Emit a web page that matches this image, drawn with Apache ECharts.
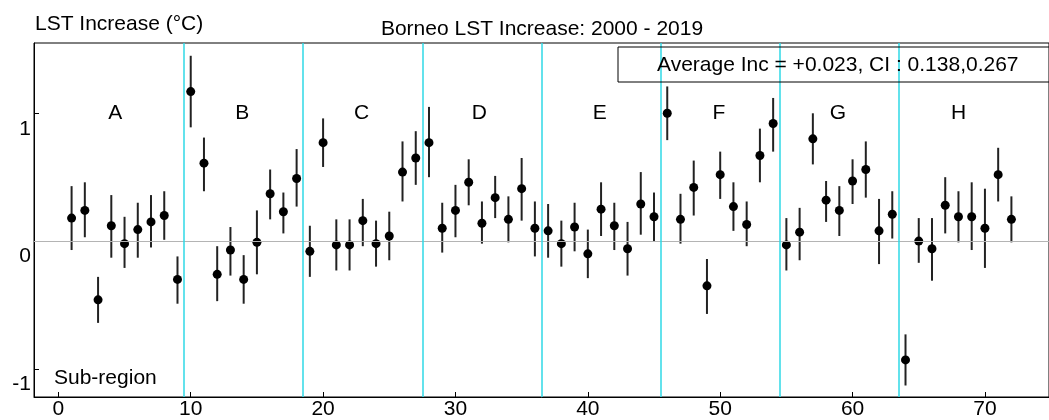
<!DOCTYPE html>
<html>
<head>
<meta charset="utf-8">
<script src="https://cdn.jsdelivr.net/npm/echarts@6/dist/echarts.min.js"></script>
<style>
html,body{margin:0;padding:0;background:#fff;}
#chart{width:1049px;height:420px;}
</style>
</head>
<body>
<div id="chart"></div>
<script>
// ---- data ----
const titleText = 'Borneo LST Increase: 2000 - 2019';
const yAxisTitle = 'LST Increase (\u00B0C)';
const xAxisNote = 'Sub-region';
const legendText = 'Average Inc = +0.023, CI : 0.138,0.267';

const estimate = [0.18,0.24,-0.46,0.12,-0.02,0.09,0.15,0.20,-0.30,1.17,
  0.61,-0.26,-0.07,-0.30,-0.01,0.37,0.23,0.49,-0.08,0.77,
  -0.03,-0.03,0.16,-0.02,0.04,0.54,0.65,0.77,0.10,0.24,
  0.46,0.14,0.34,0.17,0.41,0.10,0.08,-0.02,0.11,-0.10,
  0.25,0.12,-0.06,0.29,0.19,1.00,0.17,0.42,-0.35,0.52,
  0.27,0.13,0.67,0.92,-0.03,0.07,0.80,0.32,0.24,0.47,
  0.56,0.08,0.21,-0.93,0.00,-0.06,0.28,0.19,0.19,0.10,
  0.52,0.17];
const ciLow = [-0.07,0.03,-0.64,-0.13,-0.21,-0.13,-0.05,0.01,-0.49,0.89,
  0.39,-0.47,-0.27,-0.49,-0.26,0.17,0.06,0.27,-0.28,0.58,
  -0.23,-0.23,-0.04,-0.20,-0.15,0.31,0.44,0.50,-0.09,0.03,
  0.28,-0.02,0.18,-0.01,0.16,-0.12,-0.13,-0.20,-0.08,-0.29,
  0.04,-0.07,-0.27,0.05,0.00,0.79,-0.02,0.20,-0.57,0.33,
  0.08,-0.04,0.46,0.70,-0.23,-0.15,0.60,0.15,0.04,0.29,
  0.34,-0.18,0.02,-1.13,-0.17,-0.31,0.06,-0.01,-0.07,-0.21,
  0.31,-0.01];
const ciHigh = [0.43,0.46,-0.28,0.36,0.19,0.30,0.36,0.39,-0.12,1.45,
  0.81,-0.04,0.11,-0.11,0.24,0.56,0.38,0.72,0.12,0.96,
  0.17,0.17,0.33,0.16,0.23,0.78,0.86,1.05,0.30,0.44,
  0.64,0.31,0.51,0.35,0.65,0.31,0.29,0.16,0.30,0.09,
  0.46,0.30,0.15,0.54,0.38,1.21,0.37,0.63,-0.14,0.70,
  0.46,0.31,0.88,1.12,0.18,0.26,1.00,0.47,0.43,0.64,
  0.78,0.33,0.39,-0.73,0.18,0.18,0.50,0.39,0.46,0.41,
  0.73,0.35];
const regionNames = ['A','B','C','D','E','F','G','H'];
const regionLabelX = [4.3,13.9,22.9,31.8,40.9,49.9,58.9,68];
const regionLabelY = 1.0;
const dividers = [9.5,18.5,27.5,36.5,45.5,54.5,63.5];
const xTicks = [0,10,20,30,40,50,60,70];
const yTicks = [-1,0,1];

// ---- build ----
const FONT = "'Liberation Sans', Arial, sans-serif";
const pts = estimate.map((v,i)=>[i+1, v]);
const bars = estimate.map((v,i)=>[i+1, ciLow[i], ciHigh[i]]);
const letters = regionNames.map((n,i)=>({name:n, value:[regionLabelX[i], regionLabelY]}));

const chart = echarts.init(document.getElementById('chart'), null, {renderer:'canvas'});
chart.setOption({
  animation:false,
  backgroundColor:'#fff',
  grid:{left:34, right:-4, top:43, bottom:23, show:true, borderColor:'#000', borderWidth:1, backgroundColor:'transparent'},
  xAxis:{type:'value', min:-1.84, max:74.84,
    axisLine:{show:true, onZero:false, lineStyle:{color:'#000', width:1}},
    axisTick:{show:true, inside:true, length:5, customValues:xTicks, lineStyle:{color:'#000'}},
    axisLabel:{show:true, customValues:xTicks, margin:2, fontFamily:FONT, fontSize:21, color:'#000'},
    splitLine:{show:false}},
  yAxis:{type:'value', min:-1.22, max:1.55,
    axisLine:{show:true, onZero:false, lineStyle:{color:'#000', width:1}},
    axisTick:{show:true, inside:true, length:5, customValues:yTicks, lineStyle:{color:'#000'}},
    axisLabel:{show:true, customValues:yTicks, margin:3, verticalAlign:'top', padding:[5,0,0,0], fontFamily:FONT, fontSize:21, color:'#000'},
    splitLine:{show:false}},
  series:[
    {type:'line', data:[], silent:true,
     markLine:{silent:true, symbol:'none', label:{show:false},
       data:[{yAxis:0, lineStyle:{color:'#b4b4b4', width:1, type:'solid'}}]
         .concat(dividers.map(d=>({xAxis:d, lineStyle:{color:'#2fd8e6', width:1.5, type:'solid'}})))}},
    {type:'custom', data:bars, silent:true, z:3,
     renderItem:function(params, api){
       const p1 = api.coord([api.value(0), api.value(1)]);
       const p2 = api.coord([api.value(0), api.value(2)]);
       return {type:'line', shape:{x1:p1[0], y1:p1[1], x2:p2[0], y2:p2[1]},
         style:{stroke:'#222', lineWidth:2}};
     }},
    {type:'scatter', data:pts, symbol:'circle', symbolSize:9, z:4,
     itemStyle:{color:'#000', opacity:1}},
    {type:'scatter', data:letters, symbolSize:0, silent:true, z:5,
     itemStyle:{opacity:1},
     label:{show:true, position:'inside', formatter:'{b}', fontFamily:FONT, fontSize:21, color:'#000', opacity:1}}
  ],
  graphic:[
    {type:'text', left:35, top:14, style:{text:yAxisTitle, font:"21px 'Liberation Sans', Arial, sans-serif", fill:'#000'}},
    {type:'text', x:542, y:29, style:{text:titleText, font:"21px 'Liberation Sans', Arial, sans-serif", fill:'#000', align:'center', verticalAlign:'middle'}},
    {type:'rect', shape:{x:618, y:47, width:440, height:35}, style:{fill:'none', stroke:'#000', lineWidth:1}, z:10},
    {type:'text', x:657, y:65, style:{text:legendText, font:"21px 'Liberation Sans', Arial, sans-serif", fill:'#000', align:'left', verticalAlign:'middle'}, z:11},
    {type:'text', x:54, y:378, style:{text:xAxisNote, font:"21px 'Liberation Sans', Arial, sans-serif", fill:'#000', align:'left', verticalAlign:'middle'}}
  ]
});
</script>
</body>
</html>
